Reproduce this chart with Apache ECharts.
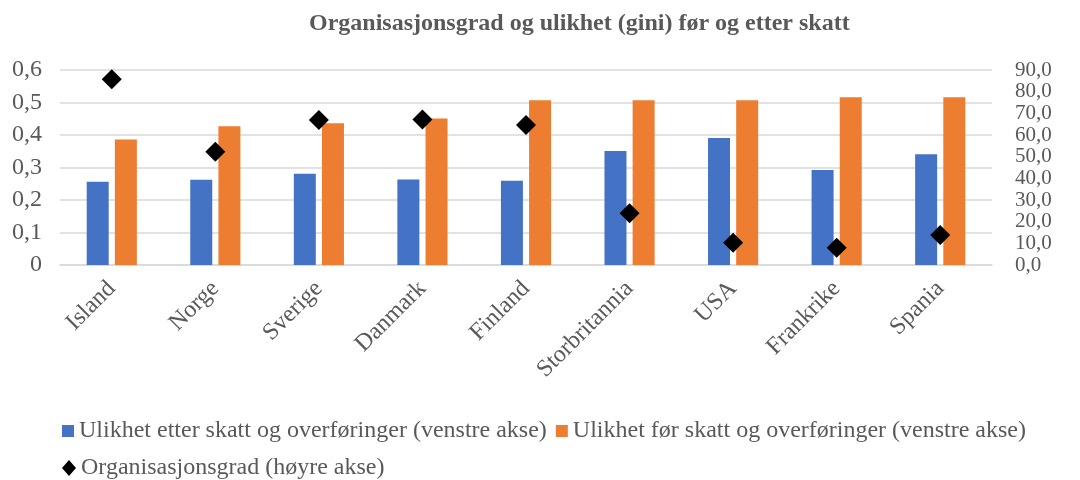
<!DOCTYPE html>
<html>
<head>
<meta charset="utf-8">
<script src="https://cdn.jsdelivr.net/npm/echarts@6/dist/echarts.min.js"></script>
<style>
    html, body { margin: 0; padding: 0; background: #fff; }
    #chart { width: 1080px; height: 480px; }
</style>
</head>
<body>
<div id="chart"></div>
<script>
// land
var countries = ['Island', 'Norge', 'Sverige', 'Danmark', 'Finland', 'Storbritannia', 'USA', 'Frankrike', 'Spania'];
// gini etter skatt og overføringer (venstre akse)
var giniAfter = [0.256, 0.262, 0.281, 0.263, 0.259, 0.351, 0.391, 0.292, 0.341];
// gini før skatt og overføringer (venstre akse)
var giniBefore = [0.386, 0.427, 0.436, 0.451, 0.507, 0.507, 0.507, 0.516, 0.516];
// organisasjonsgrad (høyre akse)
var unionDensity = [85.7, 52.3, 66.9, 67.2, 64.6, 23.9, 10.3, 8.0, 13.8];

var serif = '"Liberation Serif", "Times New Roman", serif';
var grey = '#595959';

function createComboChart(selector) {
    var myChart = echarts.init(document.getElementById(selector));
    myChart.setOption({
        animation: false,
        textStyle: {fontFamily: serif},
        title: {
            text: 'Organisasjonsgrad og ulikhet (gini) før og etter skatt',
            left: 304,
            top: 7,
            textStyle: {fontFamily: serif, fontSize: 24, fontWeight: 'bold', color: grey}
        },
        legend: [
            {
                data: [
                    {name: 'Ulikhet etter skatt og overføringer (venstre akse)', icon: 'rect'},
                    {name: 'Ulikhet før skatt og overføringer (venstre akse)', icon: 'rect'}
                ],
                left: 57,
                top: 414,
                itemWidth: 12,
                itemHeight: 12,
                itemGap: 9,
                textStyle: {fontFamily: serif, fontSize: 24, color: grey}
            },
            {
                data: [{name: 'Organisasjonsgrad (høyre akse)', icon: 'diamond'}],
                left: 57,
                top: 451,
                itemWidth: 14,
                itemHeight: 16,
                textStyle: {fontFamily: serif, fontSize: 24, color: grey}
            }
        ],
        grid: {left: 60, right: 88, top: 70, bottom: 215},
        xAxis: {
            type: 'category',
            data: countries,
            axisLine: {lineStyle: {color: '#d9d9d9', width: 1.5}},
            axisTick: {show: false},
            axisLabel: {
                interval: 0,
                rotate: 45,
                margin: 20,
                fontFamily: serif,
                fontSize: 24,
                color: grey
            }
        },
        yAxis: [
            {
                type: 'value',
                min: 0,
                max: 0.6,
                interval: 0.1,
                axisLine: {show: false},
                axisTick: {show: false},
                splitLine: {lineStyle: {color: '#d9d9d9', width: 1.5}},
                axisLabel: {
                    fontFamily: serif,
                    fontSize: 24,
                    color: grey,
                    margin: 18,
                    formatter: function (v) {
                        return v === 0 ? '0' : v.toFixed(1).replace('.', ',');
                    }
                }
            },
            {
                type: 'value',
                min: 0,
                max: 90,
                interval: 10,
                axisLine: {show: false},
                axisTick: {show: false},
                splitLine: {show: false},
                axisLabel: {
                    fontFamily: serif,
                    fontSize: 21,
                    color: grey,
                    margin: 23,
                    formatter: function (v) {
                        return v.toFixed(1).replace('.', ',');
                    }
                }
            }
        ],
        series: [
            {
                name: 'Ulikhet etter skatt og overføringer (venstre akse)',
                type: 'bar',
                data: giniAfter,
                barWidth: 22,
                barGap: '28%',
                itemStyle: {color: '#4472c4'}
            },
            {
                name: 'Ulikhet før skatt og overføringer (venstre akse)',
                type: 'bar',
                data: giniBefore,
                barWidth: 22,
                barGap: '28%',
                itemStyle: {color: '#ed7d31'}
            },
            {
                name: 'Organisasjonsgrad (høyre akse)',
                type: 'scatter',
                yAxisIndex: 1,
                data: unionDensity,
                symbol: 'diamond',
                symbolSize: 20,
                itemStyle: {color: '#000000', opacity: 1}
            }
        ]
    });
}

createComboChart('chart');
</script>
</body>
</html>
